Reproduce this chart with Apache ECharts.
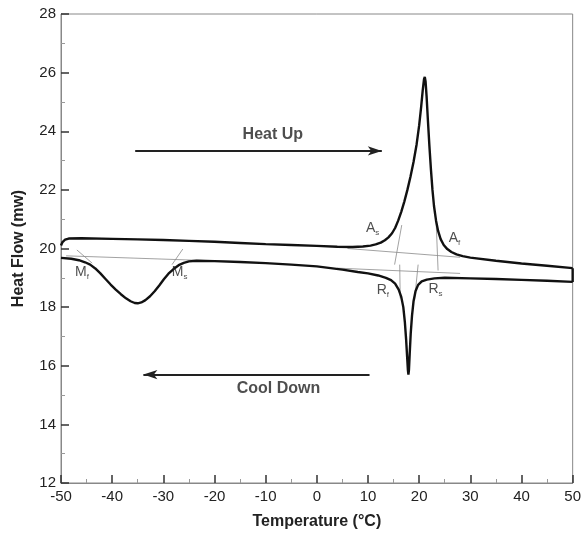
<!DOCTYPE html>
<html>
<head>
<meta charset="utf-8">
<script src="https://cdn.jsdelivr.net/npm/echarts@6/dist/echarts.min.js"></script>
<style>
html,body{margin:0;padding:0;background:#fff;}
#c{width:584px;height:537px;}
</style>
</head>
<body>
<div id="c"></div>
<script>
// Heating curve (T in °C, heat flow in mW)
var heatCurve = [
  [-50, 20.1], [-49.7, 20.22], [-49.2, 20.3], [-48.5, 20.34], [-46, 20.35], [-40, 20.33],
  [-35, 20.31], [-30, 20.29], [-25, 20.26], [-20, 20.23], [-15, 20.19], [-10, 20.15],
  [-5, 20.12], [0, 20.09], [4, 20.06], [7, 20.05], [9, 20.07], [10.5, 20.1], [11.5, 20.14],
  [12.5, 20.2], [13.3, 20.28], [14, 20.38], [14.7, 20.52], [15.3, 20.7], [15.9, 20.95],
  [16.5, 21.25], [17.1, 21.6], [17.7, 22.0], [18.3, 22.45], [18.9, 22.95], [19.5, 23.55],
  [20.0, 24.2], [20.4, 24.85], [20.7, 25.4], [20.95, 25.78], [21.1, 25.85], [21.25, 25.7],
  [21.45, 25.2], [21.7, 24.4], [22.0, 23.5], [22.3, 22.7], [22.6, 22.0], [22.9, 21.45],
  [23.3, 20.95], [23.7, 20.6], [24.2, 20.32], [24.8, 20.12], [25.5, 19.98], [26.3, 19.88],
  [27.3, 19.8], [28.5, 19.74], [30, 19.69], [35, 19.58], [40, 19.49], [45, 19.41], [50, 19.33]
];
// Cooling curve
var coolCurve = [
  [-50, 19.68], [-48, 19.65], [-46.5, 19.6], [-45.3, 19.53], [-44.3, 19.45], [-43.3, 19.32],
  [-42.3, 19.15], [-41.3, 18.96], [-40.3, 18.77], [-39.3, 18.6], [-38.3, 18.44], [-37.3, 18.3],
  [-36.4, 18.2], [-35.6, 18.14], [-35.0, 18.13], [-34.3, 18.16], [-33.5, 18.24], [-32.6, 18.37],
  [-31.7, 18.54], [-30.8, 18.74], [-29.9, 18.95], [-29, 19.14], [-28, 19.3], [-27, 19.43],
  [-26, 19.51], [-25, 19.56], [-23.5, 19.58], [-20, 19.57], [-15, 19.54], [-10, 19.5],
  [-5, 19.45], [0, 19.39], [5, 19.28], [8, 19.2], [10, 19.15], [12, 19.08], [13.5, 19.0],
  [14.5, 18.92], [15.3, 18.8], [16.0, 18.6], [16.5, 18.35], [16.9, 18.0], [17.2, 17.5],
  [17.45, 16.9], [17.65, 16.3], [17.8, 15.85], [17.9, 15.7], [18.0, 15.85], [18.15, 16.4],
  [18.35, 17.1], [18.6, 17.7], [18.9, 18.2], [19.3, 18.55], [19.8, 18.76], [20.5, 18.88],
  [21.5, 18.94], [23, 18.98], [25, 19.0], [30, 18.98], [35, 18.96], [40, 18.93], [45, 18.9],
  [50, 18.86]
];
// Closing segment joining the two curves at the right end
var rightJoin = [[50, 19.33], [50, 18.86]];
// Thin construction lines (baselines and tangents)
var constructionLines = [
  [[-49, 19.75], [-15, 19.55]],
  [[-46.9, 19.95], [-43.9, 19.5]],
  [[-26.2, 19.98], [-28.3, 19.45]],
  [[6, 20.0], [28, 19.7]],
  [[16.6, 20.8], [15.2, 19.45]],
  [[23.3, 21.0], [23.7, 19.25]],
  [[4, 19.33], [28, 19.15]],
  [[16.2, 19.45], [16.3, 18.3]],
  [[19.8, 19.45], [19.1, 18.25]]
];
// Point labels: [T, heatFlow, main letter, subscript]
var pointLabels = [
  [-45.9, 19.2, 'M', 'f'],
  [-26.8, 19.2, 'M', 's'],
  [10.9, 20.7, 'A', 's'],
  [26.9, 20.35, 'A', 'f'],
  [12.9, 18.58, 'R', 'f'],
  [23.2, 18.62, 'R', 's']
];
// Direction arrows
var heatArrow = [[-35.5, 23.33], [12.7, 23.33]];
var coolArrow = [[10.3, 15.7], [-33.9, 15.7]];
var arrowTexts = [
  [-8.6, 23.9, 'Heat Up'],
  [-7.5, 15.22, 'Cool Down']
];
var xTicks = {min: -50, max: 50, step: 10};
var yTicks = {min: 12, max: 28, step: 2};

var FONT = 'Liberation Sans, Arial, sans-serif';
var chart = echarts.init(document.getElementById('c'), null, {renderer: 'canvas'});

var curveStyle = {color: '#111', width: 2.4};
var series = [
  {type: 'line', data: heatCurve, showSymbol: false, symbol: 'none', smooth: false,
   lineStyle: curveStyle, z: 5, animation: false},
  {type: 'line', data: coolCurve, showSymbol: false, symbol: 'none', smooth: false,
   lineStyle: curveStyle, z: 5, animation: false},
  {type: 'line', data: rightJoin, showSymbol: false, symbol: 'none',
   lineStyle: curveStyle, z: 5, animation: false}
];
constructionLines.forEach(function (seg) {
  series.push({type: 'line', data: seg, showSymbol: false, symbol: 'none',
    lineStyle: {color: '#8a8a8a', width: 0.8}, z: 3, animation: false});
});
series.push({
  type: 'line', data: [], animation: false,
  markLine: {
    silent: true, animation: false,
    symbol: ['none', 'arrow'], symbolSize: [7, 14],
    label: {show: false},
    lineStyle: {color: '#222', width: 2, type: 'solid'},
    data: [
      [{coord: heatArrow[0]}, {coord: heatArrow[1]}],
      [{coord: coolArrow[0]}, {coord: coolArrow[1]}]
    ]
  }
});
series.push({
  type: 'scatter', symbolSize: 0, animation: false, z: 6,
  data: pointLabels.map(function (p) { return {value: [p[0], p[1]], main: p[2], sub: p[3]}; }),
  label: {
    show: true, position: 'inside',
    formatter: function (prm) { return '{m|' + prm.data.main + '}{s|' + prm.data.sub + '}'; },
    rich: {
      m: {fontFamily: FONT, fontSize: 14, color: '#222'},
      s: {fontFamily: FONT, fontSize: 8, color: '#222', verticalAlign: 'bottom', padding: [9, 0, 0, 0]}
    }
  }
});
series.push({
  type: 'scatter', symbolSize: 0, animation: false, z: 6,
  data: arrowTexts.map(function (p) { return {value: [p[0], p[1]], txt: p[2]}; }),
  label: {
    show: true, position: 'inside',
    formatter: function (prm) { return prm.data.txt; },
    fontFamily: FONT, fontSize: 16, fontWeight: 'bold', color: '#222'
  }
});

chart.setOption({
  animation: false,
  backgroundColor: '#fff',
  grid: {left: 61, right: 10, top: 14, bottom: 54, show: true, borderColor: '#888', borderWidth: 1},
  xAxis: {
    type: 'value', min: xTicks.min, max: xTicks.max, interval: xTicks.step,
    name: 'Temperature (\u00B0C)', nameLocation: 'middle', nameGap: 31,
    nameTextStyle: {fontFamily: FONT, fontSize: 16, fontWeight: 'bold', color: '#222'},
    axisLine: {onZero: false, lineStyle: {color: '#888', width: 1}},
    axisTick: {inside: true, length: 8, lineStyle: {color: '#333', width: 1.5}},
    minorTick: {show: true, splitNumber: 2, length: 4, lineStyle: {color: '#999'}},
    axisLabel: {fontFamily: FONT, fontSize: 15, color: '#222', margin: 6},
    splitLine: {show: false}
  },
  yAxis: {
    type: 'value', min: yTicks.min, max: yTicks.max, interval: yTicks.step,
    name: 'Heat Flow (mw)', nameLocation: 'middle', nameGap: 34,
    nameTextStyle: {fontFamily: FONT, fontSize: 16, fontWeight: 'bold', color: '#222'},
    axisLine: {onZero: false, lineStyle: {color: '#888', width: 1}},
    axisTick: {inside: true, length: 8, lineStyle: {color: '#333', width: 1.5}},
    minorTick: {show: true, splitNumber: 2, length: 4, lineStyle: {color: '#999'}},
    axisLabel: {fontFamily: FONT, fontSize: 15, color: '#222', margin: 5},
    splitLine: {show: false}
  },
  series: series
});
</script>
</body>
</html>
